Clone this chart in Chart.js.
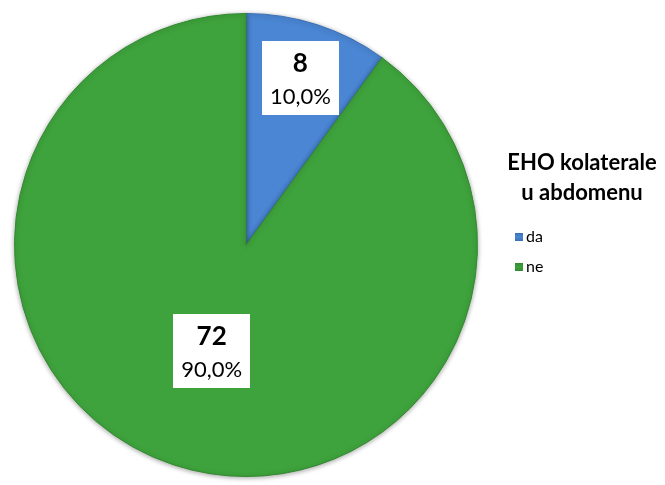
<!DOCTYPE html>
<html>
<head>
<meta charset="utf-8">
<script src="https://cdn.jsdelivr.net/npm/chart.js@4/dist/chart.umd.min.js"></script>
<style>
  html, body { margin: 0; padding: 0; background: #fff; }
  #wrap { width: 665px; height: 485px; }
</style>
</head>
<body>
<div id="wrap"><canvas id="chartKolaterale" width="665" height="485"></canvas></div>
<script>
// Podaci
const kategorije = ["da", "ne"];
const broj = [8, 72];
const postotak = ["10,0%", "90,0%"];
const naslovLegende = ["EHO kolaterale", "u abdomenu"];

const boje = ["#4a86d4", "#3ea33c"];
const rubovi = ["#3a6fb5", "#328a30"];
// koliko daleko od sredista stoje oznake (udio polumjera)
const udaljenostOznake = [0.76, 0.48];

// bijele kucice s brojem i postotkom
const oznake = {
  id: 'oznake',
  afterDatasetsDraw(chart) {
    const ctx = chart.ctx;
    const meta = chart.getDatasetMeta(0);
    meta.data.forEach((arc, i) => {
      const p = arc.getProps(['x', 'y', 'startAngle', 'endAngle', 'outerRadius'], true);
      const kut = (p.startAngle + p.endAngle) / 2;
      const r = p.outerRadius * udaljenostOznake[i];
      const x = p.x + Math.cos(kut) * r;
      const y = p.y + Math.sin(kut) * r;

      ctx.save();
      ctx.font = 'bold 26px Lato';
      const w1 = ctx.measureText(String(broj[i])).width;
      ctx.font = '22px Lato';
      const w2 = ctx.measureText(postotak[i]).width;
      const w = Math.max(w1, w2) + 16;
      const h = 74;
      ctx.fillStyle = '#fff';
      ctx.fillRect(Math.round(x - w / 2), Math.round(y - h / 2), Math.round(w), h);

      ctx.fillStyle = '#000';
      ctx.textAlign = 'center';
      ctx.textBaseline = 'middle';
      ctx.font = 'bold 26px Lato';
      ctx.fillText(String(broj[i]), x, y - 14);
      ctx.font = '22px Lato';
      ctx.fillText(postotak[i], x, y + 19);
      ctx.restore();
    });
  }
};

// legenda desno
const legenda = {
  id: 'legenda',
  afterDraw(chart) {
    const ctx = chart.ctx;
    ctx.save();
    ctx.fillStyle = '#000';
    ctx.textAlign = 'center';
    ctx.textBaseline = 'middle';
    ctx.font = 'bold 22px Lato';
    naslovLegende.forEach((t, i) => ctx.fillText(t, 582, 163 + i * 30));

    ctx.textAlign = 'left';
    ctx.font = '16px Lato';
    kategorije.forEach((k, i) => {
      const y = 237 + i * 30;
      const g = ctx.createLinearGradient(0, y - 4, 0, y + 4);
      g.addColorStop(0, rubovi[i]);
      g.addColorStop(0.5, boje[i]);
      g.addColorStop(1, rubovi[i]);
      ctx.fillStyle = g;
      ctx.fillRect(515, y - 4, 8, 8);
      ctx.fillStyle = '#000';
      ctx.fillText(k, 526, y);
    });
    ctx.restore();
  }
};

// lagana sjena ispod kruga
const sjena = {
  id: 'sjena',
  beforeDatasetsDraw(chart) {
    const ctx = chart.ctx;
    ctx.save();
    ctx.shadowColor = 'rgba(0,0,0,0.35)';
    ctx.shadowBlur = 5;
    ctx.shadowOffsetX = 0;
    ctx.shadowOffsetY = 1;
  },
  afterDatasetsDraw(chart) {
    chart.ctx.restore();
  }
};

new Chart(document.getElementById('chartKolaterale').getContext('2d'), {
  type: 'pie',
  data: {
    labels: kategorije,
    datasets: [{
      data: broj,
      backgroundColor: boje,
      borderColor: rubovi,
      borderWidth: 1
    }]
  },
  options: {
    responsive: false,
    animation: false,
    layout: { padding: { left: 14, top: 13, right: 187, bottom: 8 } },
    plugins: {
      legend: { display: false },
      tooltip: { enabled: false }
    }
  },
  plugins: [sjena, oznake, legenda]
});
</script>
</body>
</html>
